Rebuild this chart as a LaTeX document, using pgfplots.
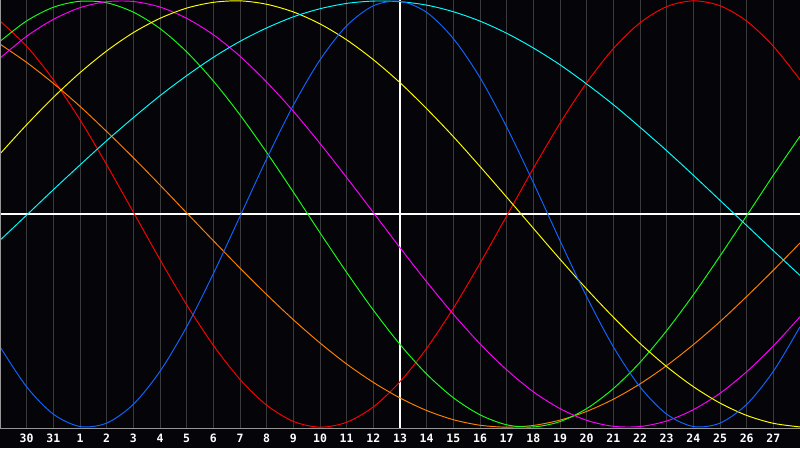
\documentclass[border=0pt]{standalone}
\usepackage{fontspec}
\setmonofont{DejaVu Sans Mono}
\usepackage{pgfplots}
\pgfplotsset{compat=1.18}
\definecolor{bg}{RGB}{5,5,9}
\definecolor{gridgray}{RGB}{58,58,60}
\definecolor{framegray}{RGB}{150,150,150}
\definecolor{cred}{RGB}{255,0,0}
\definecolor{corange}{RGB}{255,128,0}
\definecolor{cgreen}{RGB}{20,255,20}
\definecolor{cmagenta}{RGB}{255,0,255}
\definecolor{cyellow}{RGB}{255,255,0}
\definecolor{ccyan}{RGB}{0,255,255}
\definecolor{cblue}{RGB}{16,100,255}
\begin{document}
\begin{tikzpicture}
\fill[bg] (0,-20pt) rectangle (800pt,428pt);
\begin{axis}[
  at={(0,0)}, anchor=south west,
  scale only axis, width=800pt, height=428pt,
  xmin=0, xmax=30, ymin=-1.004, ymax=1.004,
  axis line style={draw=none},
  xtick={1,...,29},
  xticklabels={30,31,1,2,3,4,5,6,7,8,9,10,11,12,13,14,15,16,17,18,19,20,21,22,23,24,25,26,27},
  ytick=\empty,
  major tick length=0pt,
  xmajorgrids,
  major grid style={draw=gridgray, line width=0.9pt},
  xticklabel style={font=\ttfamily\bfseries\fontsize{11.5}{13}\selectfont, text=white, anchor=center, yshift=-10.5pt},
  /pgf/number format/assume math mode=true,
  every axis plot/.append style={line width=0.95pt, smooth, no markers},
]
\addplot[white, line width=1.1pt, sharp plot] coordinates {(15,-1.004) (15,1.004)};
\addplot[white, line width=1.1pt, sharp plot] coordinates {(0,0) (30,0)};
% emotional 28 (red)
\addplot[cred] coordinates {
(0,0.905)(1,0.787)(2,0.630)(3,0.442)(4,0.231)(5,0.009)(6,-0.214)(7,-0.426)(8,-0.616)(9,-0.776)
(10,-0.897)(11,-0.973)(12,-1.000)(13,-0.977)(14,-0.905)(15,-0.787)(16,-0.630)(17,-0.442)(18,-0.231)(19,-0.009)
(20,0.214)(21,0.426)(22,0.616)(23,0.776)(24,0.897)(25,0.973)(26,1.000)(27,0.977)(28,0.905)(29,0.787)(30,0.630)};
% awareness 48 (orange)
\addplot[corange] coordinates {
(0,0.797)(1,0.711)(2,0.613)(3,0.505)(4,0.387)(5,0.264)(6,0.136)(7,0.005)(8,-0.125)(9,-0.254)
(10,-0.378)(11,-0.496)(12,-0.605)(13,-0.704)(14,-0.790)(15,-0.863)(16,-0.922)(17,-0.965)(18,-0.991)(19,-1.000)
(20,-0.992)(21,-0.967)(22,-0.926)(23,-0.869)(24,-0.797)(25,-0.711)(26,-0.613)(27,-0.505)(28,-0.387)(29,-0.264)(30,-0.136)};
% intellectual 33 (green)
\addplot[cgreen] coordinates {
(0,0.810)(1,0.906)(2,0.970)(3,0.998)(4,0.991)(5,0.947)(6,0.870)(7,0.761)(8,0.624)(9,0.465)
(10,0.289)(11,0.103)(12,-0.088)(13,-0.274)(14,-0.451)(15,-0.612)(16,-0.751)(17,-0.862)(18,-0.942)(19,-0.989)
(20,-0.999)(21,-0.974)(22,-0.913)(23,-0.819)(24,-0.696)(25,-0.547)(26,-0.379)(27,-0.197)(28,-0.008)(29,0.182)(30,0.365)};
% intuitive 38 (magenta)
\addplot[cmagenta] coordinates {
(0,0.731)(1,0.834)(2,0.913)(3,0.968)(4,0.996)(5,0.997)(6,0.971)(7,0.918)(8,0.841)(9,0.740)
(10,0.619)(11,0.482)(12,0.331)(13,0.171)(14,0.007)(15,-0.158)(16,-0.318)(17,-0.470)(18,-0.609)(19,-0.731)
(20,-0.834)(21,-0.913)(22,-0.968)(23,-0.996)(24,-0.997)(25,-0.971)(26,-0.918)(27,-0.841)(28,-0.740)(29,-0.619)(30,-0.482)};
% aesthetic 43 (yellow)
\addplot[cyellow] coordinates {
(0,0.282)(1,0.419)(2,0.547)(3,0.663)(4,0.765)(5,0.851)(6,0.918)(7,0.966)(8,0.993)(9,1.000)
(10,0.984)(11,0.948)(12,0.892)(13,0.817)(14,0.724)(15,0.616)(16,0.494)(17,0.363)(18,0.223)(19,0.079)
(20,-0.067)(21,-0.212)(22,-0.352)(23,-0.484)(24,-0.607)(25,-0.716)(26,-0.810)(27,-0.887)(28,-0.945)(29,-0.982)(30,-0.999)};
% spiritual 53 (cyan)
\addplot[ccyan] coordinates {
(0,-0.123)(1,-0.005)(2,0.114)(3,0.230)(4,0.344)(5,0.452)(6,0.555)(7,0.649)(8,0.735)(9,0.810)
(10,0.873)(11,0.925)(12,0.963)(13,0.988)(14,0.999)(15,0.996)(16,0.980)(17,0.949)(18,0.905)(19,0.848)
(20,0.779)(21,0.700)(22,0.610)(23,0.513)(24,0.407)(25,0.297)(26,0.182)(27,0.064)(28,-0.054)(29,-0.172)(30,-0.288)};
% physical 23 (blue)
\addplot[cblue] coordinates {
(0,-0.623)(1,-0.811)(2,-0.939)(3,-0.997)(4,-0.981)(5,-0.893)(6,-0.738)(7,-0.529)(8,-0.280)(9,-0.011)
(10,0.259)(11,0.510)(12,0.723)(13,0.883)(14,0.977)(15,0.998)(16,0.946)(17,0.823)(18,0.640)(19,0.408)
(20,0.147)(21,-0.125)(22,-0.388)(23,-0.623)(24,-0.811)(25,-0.939)(26,-0.997)(27,-0.981)(28,-0.893)(29,-0.738)(30,-0.529)};
\draw[framegray, line width=1pt] (rel axis cs:1,0) -- (rel axis cs:0,0) -- (rel axis cs:0,1) -- (rel axis cs:1,1);
\end{axis}
\pgfresetboundingbox
\useasboundingbox (0,-20pt) rectangle (800pt,428pt);
\end{tikzpicture}
\end{document}
